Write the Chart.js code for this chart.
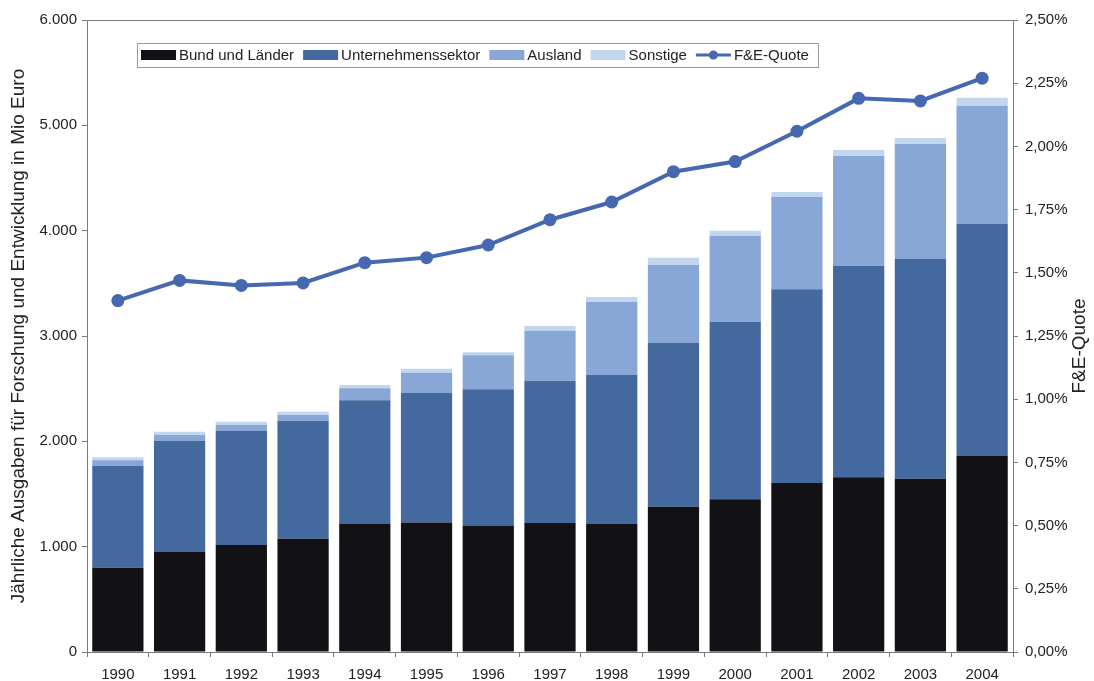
<!DOCTYPE html>
<html>
<head>
<meta charset="utf-8">
<title>F&amp;E-Ausgaben 1990–2004</title>
<script src="https://cdn.jsdelivr.net/npm/chart.js@4.4.1/dist/chart.umd.min.js"></script>
<style>
  html, body { margin: 0; padding: 0; background: #ffffff; }
  #wrap { width: 1094px; height: 681px; }
</style>
</head>
<body>
<div id="wrap"><canvas id="c" width="1094" height="681"></canvas></div>
<script>
// Jahre
const years = ['1990','1991','1992','1993','1994','1995','1996','1997','1998','1999','2000','2001','2002','2003','2004'];

// Ausgaben nach Finanzierungsquelle, Mio Euro
const bundLaender        = [800, 950, 1015, 1075, 1220, 1230, 1200, 1225, 1215, 1380, 1450, 1605, 1660, 1645, 1860];
const unternehmenssektor = [965, 1055, 1085, 1120, 1170, 1230, 1295, 1350, 1415, 1555, 1685, 1840, 2005, 2085, 2205];
const ausland            = [55, 55, 55, 55, 115, 190, 323, 475, 693, 740, 817, 875, 1045, 1092, 1120];
const sonstige           = [30, 30, 30, 30, 30, 38, 28, 45, 47, 67, 47, 47, 57, 57, 76];

// F&E-Quote in Prozent
const feQuote = [1.39, 1.47, 1.45, 1.46, 1.54, 1.56, 1.61, 1.71, 1.78, 1.90, 1.94, 2.06, 2.19, 2.18, 2.27];

// Achsenbeschriftung
const leftTickStep = 1000;
const rightTickStep = 0.25;
const leftTitle = 'Jährliche Ausgaben für Forschung und Entwicklung in Mio Euro';
const rightTitle = 'F&E-Quote';

const FONT = '"Liberation Sans", Arial, sans-serif';
const TEXT = '#222222';
const AXIS = '#7a7a7a';

const COLORS = {
  bund: '#121216',
  unt: '#44699f',
  aus: '#88a6d6',
  son: '#c3d6ef',
  quote: '#4568b0'
};

function fmtThousands(v) {
  return String(Math.round(v)).replace(/\B(?=(\d{3})+(?!\d))/g, '.');
}

// Rahmen um die Zeichenfläche
const plotFrame = {
  id: 'plotFrame',
  afterDraw(chart) {
    const { ctx, chartArea: a } = chart;
    ctx.save();
    ctx.strokeStyle = AXIS;
    ctx.lineWidth = 1;
    ctx.strokeRect(Math.round(a.left) + 0.5, Math.round(a.top) + 0.5,
                   Math.round(a.right - a.left), Math.round(a.bottom - a.top));
    ctx.restore();
  }
};

// Titel der rechten Achse, von unten nach oben gelesen
const rightAxisTitle = {
  id: 'rightAxisTitle',
  afterDraw(chart) {
    const { ctx } = chart;
    const s = chart.scales.y1;
    ctx.save();
    ctx.font = '19px ' + FONT;
    ctx.fillStyle = TEXT;
    ctx.textAlign = 'center';
    ctx.textBaseline = 'middle';
    ctx.translate(s.right - 14, (s.top + s.bottom) / 2 + 10);
    ctx.rotate(-Math.PI / 2);
    ctx.fillText(rightTitle, 0, 0);
    ctx.restore();
  }
};

// Legende in der Zeichenfläche, mit Rahmen
const boxedLegend = {
  id: 'boxedLegend',
  afterDraw(chart) {
    const { ctx } = chart;
    const ds = chart.data.datasets;
    const order = [0, 1, 2, 3, 4];
    const x0 = 141, cy = 55, sw = 35, sh = 10, gapT = 3, gapI = 9;
    ctx.save();
    ctx.font = '15px ' + FONT;
    ctx.textBaseline = 'middle';
    let x = x0;
    const items = order.map(i => {
      const w = ctx.measureText(ds[i].label).width;
      const it = { i, x, w };
      x += sw + gapT + w + gapI;
      return it;
    });
    const boxL = 137, boxR = x - gapI + 9, boxT = 43, boxB = 67;
    ctx.fillStyle = '#ffffff';
    ctx.fillRect(boxL, boxT, boxR - boxL, boxB - boxT);
    ctx.strokeStyle = '#9a9a9a';
    ctx.lineWidth = 1;
    ctx.strokeRect(boxL + 0.5, boxT + 0.5, boxR - boxL, boxB - boxT);
    items.forEach(it => {
      const d = ds[it.i];
      if (d.type === 'line') {
        ctx.strokeStyle = d.borderColor;
        ctx.lineWidth = 3;
        ctx.beginPath();
        ctx.moveTo(it.x, cy);
        ctx.lineTo(it.x + sw, cy);
        ctx.stroke();
        ctx.fillStyle = d.borderColor;
        ctx.beginPath();
        ctx.arc(it.x + sw / 2, cy, 4.5, 0, Math.PI * 2);
        ctx.fill();
      } else {
        ctx.fillStyle = d.backgroundColor;
        ctx.fillRect(it.x, cy - sh / 2, sw, sh);
      }
      ctx.fillStyle = TEXT;
      ctx.textAlign = 'left';
      ctx.fillText(d.label, it.x + sw + gapT, cy + 1);
    });
    ctx.restore();
  }
};

const barCommon = {
  type: 'bar',
  yAxisID: 'y',
  stack: 'fe',
  order: 1,
  borderWidth: 0,
  barPercentage: 0.83,
  categoryPercentage: 1.0
};

new Chart(document.getElementById('c'), {
  data: {
    labels: years,
    datasets: [
      Object.assign({ label: 'Bund und Länder', data: bundLaender, backgroundColor: COLORS.bund }, barCommon),
      Object.assign({ label: 'Unternehmenssektor', data: unternehmenssektor, backgroundColor: COLORS.unt }, barCommon),
      Object.assign({ label: 'Ausland', data: ausland, backgroundColor: COLORS.aus }, barCommon),
      Object.assign({ label: 'Sonstige', data: sonstige, backgroundColor: COLORS.son }, barCommon),
      {
        type: 'line',
        label: 'F&E-Quote',
        data: feQuote,
        yAxisID: 'y1',
        order: 0,
        borderColor: COLORS.quote,
        backgroundColor: COLORS.quote,
        borderWidth: 4,
        pointRadius: 6.5,
        pointBorderWidth: 0,
        pointBackgroundColor: COLORS.quote,
        tension: 0,
        fill: false
      }
    ]
  },
  options: {
    responsive: false,
    animation: false,
    devicePixelRatio: 1,
    layout: { padding: { top: 20, left: 0, right: 0, bottom: 0 } },
    plugins: {
      legend: { display: false },
      tooltip: { enabled: false }
    },
    scales: {
      x: {
        stacked: true,
        grid: { display: true, drawOnChartArea: false, tickLength: 5, color: AXIS },
        border: { color: AXIS },
        ticks: { color: TEXT, font: { family: FONT, size: 15 }, padding: 9, maxRotation: 0 },
        afterFit(s) { s.height = 29; }
      },
      y: {
        stacked: true,
        position: 'left',
        min: 0,
        max: 6000,
        grid: { display: true, drawOnChartArea: false, tickLength: 5, color: AXIS },
        border: { color: AXIS },
        ticks: {
          stepSize: leftTickStep,
          color: TEXT,
          font: { family: FONT, size: 15 },
          padding: 5,
          callback: v => fmtThousands(v)
        },
        title: {
          display: true,
          text: leftTitle,
          color: TEXT,
          font: { family: FONT, size: 19 },
          padding: { top: 7, bottom: 0 }
        },
        afterFit(s) { s.width = 87; }
      },
      y1: {
        position: 'right',
        min: 0,
        max: 2.5,
        grid: { display: true, drawOnChartArea: false, tickLength: 5, color: AXIS },
        border: { color: AXIS },
        ticks: {
          stepSize: rightTickStep,
          color: TEXT,
          font: { family: FONT, size: 15 },
          padding: 7,
          callback: v => v.toFixed(2).replace('.', ',') + '%'
        },
        afterFit(s) { s.width = 81; }
      }
    }
  },
  plugins: [plotFrame, boxedLegend, rightAxisTitle]
});
</script>
</body>
</html>
